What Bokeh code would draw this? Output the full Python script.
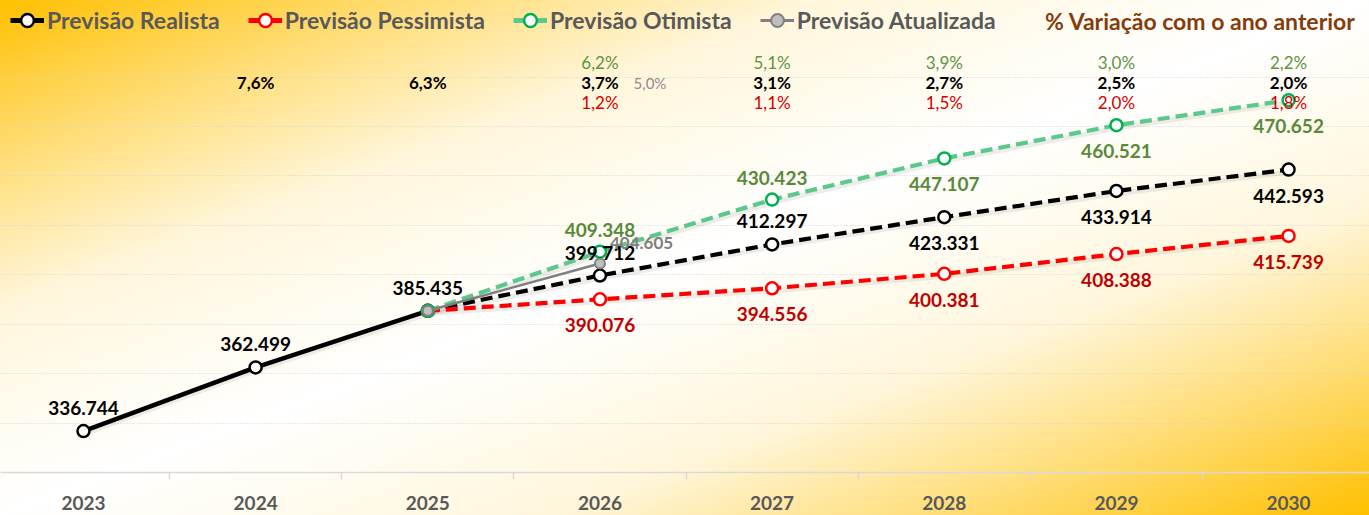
from bokeh.plotting import figure
from bokeh.models import ColumnDataSource, FixedTicker, Legend, LegendItem, Label, Range1d
from bokeh.core.properties import value
from bokeh.embed import file_html
from bokeh.resources import INLINE
from bokeh.transform import dodge

# ---------------- data ----------------
years = [2023, 2024, 2025, 2026, 2027, 2028, 2029, 2030]
realista = [336744, 362499, 385435, 399712, 412297, 423331, 433914, 442593]

proj_years = [2025, 2026, 2027, 2028, 2029, 2030]
pessimista = [385435, 390076, 394556, 400381, 408388, 415739]
otimista = [385435, 409348, 430423, 447107, 460521, 470652]

atual_years = [2025, 2026]
atualizada = [385435, 404605]

var_years_real = [2024, 2025, 2026, 2027, 2028, 2029, 2030]
var_realista = ["7,6%", "6,3%", "3,7%", "3,1%", "2,7%", "2,5%", "2,0%"]
var_years_proj = [2026, 2027, 2028, 2029, 2030]
var_otimista = ["6,2%", "5,1%", "3,9%", "3,0%", "2,2%"]
var_pessimista = ["1,2%", "1,1%", "1,5%", "2,0%", "1,8%"]
var_years_atual = [2026]
var_atualizada = ["5,0%"]

FONT = "Lato"


def fmt(v):
    return f"{v:,}".replace(",", ".")


# ---------------- figure ----------------
gradient = ("linear-gradient(to bottom right, #FFC000 0%, #FFDC73 15%, #FFF6DB 30%, "
            "#FFFFFF 50%, #FFF6DB 70%, #FFDC73 85%, #FFC000 100%)")

p = figure(width=1369, height=515, output_backend="svg", toolbar_location=None,
           x_range=Range1d(2022.518, 2030.47), y_range=Range1d(320000, 511000),
           y_axis_location=None, min_border_left=0, min_border_right=0,
           min_border_top=0, min_border_bottom=43,
           styles={"background": gradient})
p.background_fill_alpha = 0
p.border_fill_alpha = 0
p.outline_line_color = None

p.xgrid.visible = False
p.ygrid.ticker = FixedTicker(ticks=list(range(340000, 500000, 20000)))
p.ygrid.grid_line_color = "#D2D2D2"
p.ygrid.grid_line_dash = "1 2"
p.ygrid.grid_line_width = 1

ax = p.xaxis[0]
ax.ticker = FixedTicker(ticks=years, minor_ticks=[y + 0.5 for y in years[:-1]])
ax.major_tick_out = 0
ax.major_tick_in = 0
ax.minor_tick_in = 0
ax.minor_tick_out = 7
ax.minor_tick_line_color = "#D9D9D9"
ax.minor_tick_line_width = 1.5
ax.axis_line_color = "#D9D9D9"
ax.axis_line_width = 1.5
ax.major_label_standoff = 16
ax.major_label_text_font = FONT
ax.major_label_text_font_style = "bold"
ax.major_label_text_font_size = "19px"
ax.major_label_text_color = "#595959"

src_real = ColumnDataSource(dict(x=years, y=realista))
src_real_hist = ColumnDataSource(dict(x=years[:3], y=realista[:3]))
src_real_proj = ColumnDataSource(dict(x=years[2:], y=realista[2:]))
src_pess = ColumnDataSource(dict(x=proj_years, y=pessimista))
src_otim = ColumnDataSource(dict(x=proj_years, y=otimista))
src_atual = ColumnDataSource(dict(x=atual_years, y=atualizada))

sx = dodge("x", 0.01, range=p.x_range)
sy = dodge("y", -1000, range=p.y_range)

# shadows
for s in (src_real_hist, src_real_proj, src_pess, src_otim):
    p.line(x=sx, y=sy, source=s, line_color="black", line_alpha=0.07, line_width=5)

# lines
DASH = "12 6"
p.line("x", "y", source=src_real_hist, line_color="black", line_width=4.5)
p.line("x", "y", source=src_real_proj, line_color="black", line_width=4.2, line_dash=DASH)
p.line("x", "y", source=src_pess, line_color="#FF0000", line_width=4.2, line_dash=DASH)
p.line("x", "y", source=src_otim, line_color="#5CC88C", line_width=4.2, line_dash=DASH)

# markers
m_real = p.scatter("x", "y", source=src_real, size=12, fill_color="white",
                   line_color="black", line_width=2.5)
m_pess = p.scatter("x", "y", source=src_pess, size=12, fill_color="white",
                   line_color="#FF0000", line_width=2.5)
m_otim = p.scatter("x", "y", source=src_otim, size=12, fill_color="white",
                   line_color="#00B050", line_width=2.5)

# data labels
lab_font = dict(text_font=value(FONT), text_font_style="bold", text_font_size="19px",
                text_align="center", text_baseline="middle")

up_real = [True] * 5 + [False] * 3
p.text(x=[x for x, u in zip(years, up_real) if u],
       y=[v for v, u in zip(realista, up_real) if u],
       text=[fmt(v) for v, u in zip(realista, up_real) if u],
       text_color="black", y_offset=-23, **lab_font)
p.text(x=[x for x, u in zip(years, up_real) if not u],
       y=[v for v, u in zip(realista, up_real) if not u],
       text=[fmt(v) for v, u in zip(realista, up_real) if not u],
       text_color="black", y_offset=26, **lab_font)

p.text(x=proj_years[1:], y=pessimista[1:], text=[fmt(v) for v in pessimista[1:]],
       text_color="#C00000", y_offset=26, **lab_font)

up_otim = [True, True, False, False, False]
p.text(x=[x for x, u in zip(proj_years[1:], up_otim) if u],
       y=[v for v, u in zip(otimista[1:], up_otim) if u],
       text=[fmt(v) for v, u in zip(otimista[1:], up_otim) if u],
       text_color="#588A38", y_offset=-22, **lab_font)
p.text(x=[x for x, u in zip(proj_years[1:], up_otim) if not u],
       y=[v for v, u in zip(otimista[1:], up_otim) if not u],
       text=[fmt(v) for v, u in zip(otimista[1:], up_otim) if not u],
       text_color="#588A38", y_offset=26, **lab_font)

# updated forecast (drawn on top)
p.line("x", "y", source=src_atual, line_color="#808080", line_width=2.5)
m_atual = p.scatter("x", "y", source=src_atual, size=10, fill_color="#BFBFBF",
                    line_color="#808080", line_width=2)
p.text(x=atual_years[1:], y=atualizada[1:], text=[fmt(v) for v in atualizada[1:]],
       text_color="#7F7F7F", text_font=value(FONT), text_font_style="bold",
       text_font_size="17px", text_align="left", text_baseline="middle",
       x_offset=10, y_offset=-20)

# percentage rows
row_green, row_black, row_red = 485900, 477800, 469700
pct = dict(text_font=value(FONT), text_align="center", text_baseline="middle")
p.text(x=var_years_real, y=[row_black] * len(var_years_real), text=var_realista,
       text_color="black", text_font_style="bold", text_font_size="17px", **pct)
p.text(x=var_years_proj, y=[row_green] * len(var_years_proj), text=var_otimista,
       text_color="#5E9442", text_font_size="17px", **pct)
p.text(x=var_years_proj, y=[row_red] * len(var_years_proj), text=var_pessimista,
       text_color="#D40000", text_font_size="17px", **pct)
p.text(x=var_years_atual, y=[row_black] * len(var_years_atual), text=var_atualizada,
       text_color="#8C8C8C", text_font_size="15px", x_offset=50, **pct)

# legend (hidden solid-line renderers give the legend its line samples)
leg_real = p.line("x", "y", source=src_real, line_color="black", line_width=5, visible=False)
leg_pess = p.line("x", "y", source=src_pess, line_color="#FF0000", line_width=5, visible=False)
leg_otim = p.line("x", "y", source=src_otim, line_color="#5CC88C", line_width=5, visible=False)
leg_atual = p.line("x", "y", source=src_atual, line_color="#808080", line_width=3, visible=False)
legend = Legend(items=[
    LegendItem(label="Previsão Realista", renderers=[leg_real, m_real]),
    LegendItem(label="Previsão Pessimista", renderers=[leg_pess, m_pess]),
    LegendItem(label="Previsão Otimista", renderers=[leg_otim, m_otim]),
    LegendItem(label="Previsão Atualizada", renderers=[leg_atual, m_atual]),
], location=(6, 432), orientation="horizontal", margin=0, padding=4,
    spacing=28, glyph_width=34, glyph_height=32, label_height=20, label_standoff=3,
    label_text_font=FONT, label_text_font_style="bold", label_text_font_size="23px",
    label_text_color="#595959", background_fill_alpha=0, border_line_alpha=0)
p.add_layout(legend)

p.add_layout(Label(x=2030.39, y=502900, text="% Variação com o ano anterior",
                   text_align="right", text_baseline="middle", text_font=FONT,
                   text_font_style="bold", text_font_size="23px", text_color="#843C0C"))

open("out.html", "w").write(file_html(p, INLINE))
